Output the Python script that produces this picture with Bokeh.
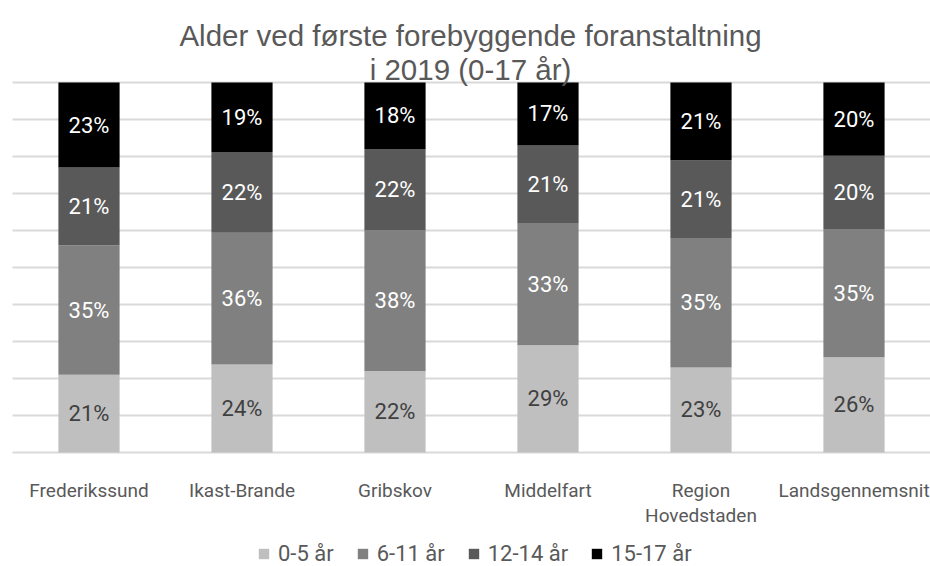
from bokeh.plotting import figure
from bokeh.models import ColumnDataSource, Range1d, Legend, LegendItem
from bokeh.core.properties import value
from bokeh.embed import file_html
from bokeh.resources import INLINE

categories = ["Frederikssund", "Ikast-Brande", "Gribskov", "Middelfart", "Region\nHovedstaden", "Landsgennemsnit"]
series = ["0-5 år", "6-11 år", "12-14 år", "15-17 år"]
v_0_5 = [21, 24, 22, 29, 23, 26]
v_6_11 = [35, 36, 38, 33, 35, 35]
v_12_14 = [21, 22, 22, 21, 21, 20]
v_15_17 = [23, 19, 18, 17, 21, 20]
title_lines = ["Alder ved første forebyggende foranstaltning", "i 2019 (0-17 år)"]
grid_ticks = [0.0, 0.1, 0.2, 0.3, 0.4, 0.5, 0.6, 0.7, 0.8, 0.9, 1.0]

colors = ["#BFBFBF", "#808080", "#595959", "#000000"]
label_colors = ["#404040", "#FFFFFF", "#FFFFFF", "#FFFFFF"]
FONT = "Roboto"
TITLE_FONT = "Liberation Sans"
GREY = "#595959"

raw = [v_0_5, v_6_11, v_12_14, v_15_17]
n = len(categories)
idx = list(range(n))
totals = [sum(r[i] for r in raw) for i in idx]
keys = ["s0", "s1", "s2", "s3"]
data = {"x": idx}
for k, r in zip(keys, raw):
    data[k] = [r[i] / totals[i] for i in idx]
source = ColumnDataSource(data)

W, H = 930, 566
LEFT, STEP = 12, 153          # plot band left edge and category pitch (px)
TOP, BOTTOM = 82, 452         # pixel rows of 100 % and 0 %
PX = BOTTOM - TOP             # pixels per unit


def ydata(px_row):
    return (BOTTOM - px_row) / PX


p = figure(width=W, height=H, output_backend="svg", toolbar_location=None,
           x_range=Range1d(-0.5 - LEFT / STEP, -0.5 + (W - LEFT) / STEP),
           y_range=Range1d(ydata(H), ydata(0)),
           min_border=0)
p.axis.visible = False
p.grid.visible = False
p.outline_line_color = None

# gridlines
p.segment(x0=[-0.5] * len(grid_ticks), x1=[n - 0.5] * len(grid_ticks), y0=grid_ticks, y1=grid_ticks,
          line_color="#D9D9D9", line_width=2)

renderers = p.vbar_stack(keys, x="x", width=0.4, color=colors, line_color=None, source=source)

# segment labels
for j, k in enumerate(keys):
    ys, ts = [], []
    for i in idx:
        base = sum(data[kk][i] for kk in keys[:j])
        ys.append(base + data[k][i] / 2)
        ts.append(f"{raw[j][i]}%")
    p.text(x=idx, y=ys, text=ts, text_align="center", text_baseline="middle",
           text_font=value(FONT), text_font_size="22px", text_color=label_colors[j])

# category labels (first and second lines)
first = [c.split("\n")[0] for c in categories]
second_x = [i for i, c in enumerate(categories) if "\n" in c]
second = [categories[i].split("\n")[1] for i in second_x]
p.text(x=idx, y=[ydata(490)] * n, text=first, text_align="center", text_baseline="alphabetic",
       text_font=value(FONT), text_font_size="19px", text_color=GREY)
p.text(x=second_x, y=[ydata(515)] * len(second_x), text=second, text_align="center",
       text_baseline="alphabetic", text_font=value(FONT), text_font_size="19px", text_color=GREY)

# title
p.text(x=[(n - 1) / 2 - 1 / STEP] * 2, y=[ydata(35), ydata(68.5)], text=title_lines,
       text_align="center", text_baseline="alphabetic",
       text_font=value(TITLE_FONT), text_font_size="29.5px", text_color=GREY)

legend = Legend(items=[LegendItem(label=s, renderers=[r]) for s, r in zip(series, renderers)],
                orientation="horizontal", location=(257, 0))
legend.label_text_font = FONT
legend.label_text_font_size = "22px"
legend.label_text_color = GREY
legend.glyph_width = 13
legend.glyph_height = 13
legend.label_standoff = 8
legend.spacing = 22
legend.label_height = 20
legend.border_line_color = None
legend.background_fill_alpha = 0
legend.padding = 0
legend.margin = 0
p.add_layout(legend, "center")

open("out.html", "w").write(file_html(p, INLINE))
